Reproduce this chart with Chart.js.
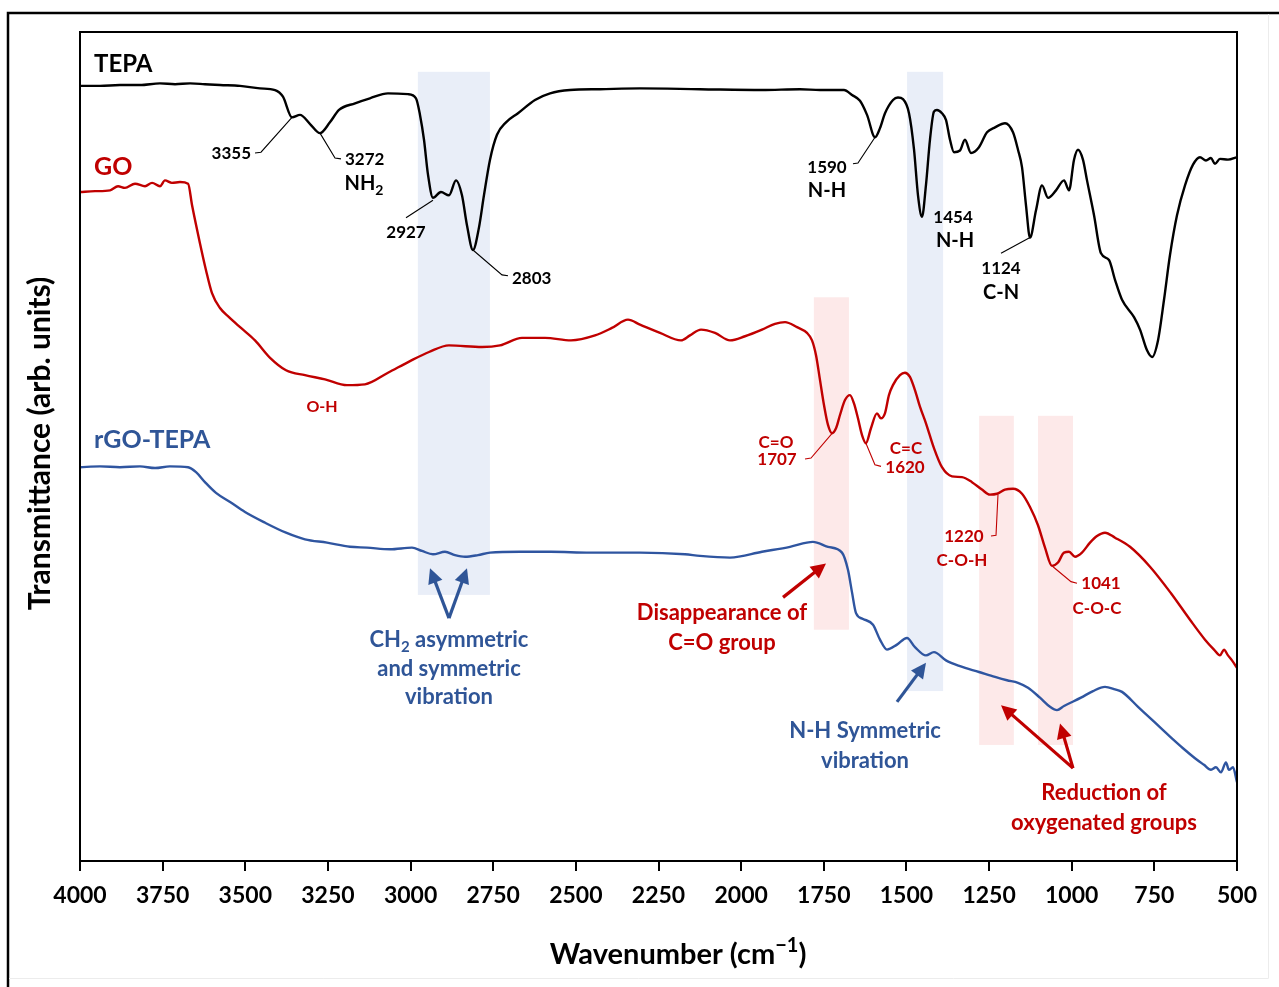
<!DOCTYPE html>
<html><head><meta charset="utf-8">
<script src="https://cdn.jsdelivr.net/npm/chart.js@4.4.1/dist/chart.umd.min.js"></script>
<style>html,body{margin:0;padding:0;background:#fff;}canvas{display:block;}</style>
</head><body>
<canvas id="c" width="1279" height="987"></canvas>
<script>
// ---- data (wavenumber in cm-1, transmittance in arbitrary units) ----
const xTicks = [4000,3750,3500,3250,3000,2750,2500,2250,2000,1750,1500,1250,1000,750,500];

const wnTEPA = [4000,3939.5,3879,3818.5,3758,3712.6,3667,3622,3576.5,3516,3455.5,3410,3386,3358.7,3334.5,3304,3274,3244,3216.5,3168,3123,3068.3,3007.8,2983.6,2971.5,2959.4,2947.3,2932.2,2908,2883.8,2862.6,2844.5,2829.4,2811.3,2793.2,2778,2759.7,2738.6,2711.3,2675,2623.6,2578,2517.7,2427,2306,2124.5,1937,1822,1761.5,1688.9,1664.6,1640.5,1619.2,1595,1580,1564.8,1540.6,1525.5,1510.4,1492.2,1477,1465,1453,1441,1428.8,1416.7,1407.6,1392.5,1380.4,1368.2,1356.1,1338,1323,1304.7,1280.5,1256.2,1232,1201.8,1177.6,1162.5,1150.4,1138.3,1126.2,1108,1089.9,1071.7,1047.5,1023.3,1008.2,993,981,966,953.7,932.5,911.4,887.2,869,847.8,811.5,793.4,772.2,757,739,720.8,702.7,681.5,657.3,633.1,612,593.8,578.7,566.6,551.5,527.3,500];
const tTEPA  = [93.5,93.5,93.6,93.6,93.8,93.7,93.8,93.7,93.6,93.5,93.2,93.0,92.2,89.7,90.0,88.9,87.8,89.1,90.6,91.4,92.0,92.6,92.5,92.0,90.0,87.0,82.8,80.0,80.7,80.3,82.1,80.3,76.7,73.7,76.4,80.3,84.6,87.6,89.1,90.2,91.8,92.6,93.0,93.1,93.2,93.1,93.0,93.1,93.0,93.0,92.4,91.7,90.0,87.3,88.4,90.2,91.8,92.1,91.9,90.2,85.8,80.3,77.7,81.5,87.0,90.4,90.6,90.2,89.4,87.0,85.5,85.7,87.0,85.4,86.1,87.9,88.5,89.0,87.9,85.8,83.7,79.1,75.2,78.5,81.5,80.0,80.9,82.1,80.9,84.6,85.8,84.6,82.1,77.9,73.3,72.5,70.1,67.7,65.6,64.1,61.6,60.8,62.8,67.7,73.1,77.9,81.5,84.0,84.9,84.5,84.8,84.1,84.7,84.6,84.9];

const wnGO = [4000,3954.6,3909,3885,3864,3833.6,3803.3,3782,3758,3743,3722,3697.5,3673,3661,3637,3619,3600.7,3576.5,3549.3,3513,3470.6,3425,3376.8,3319.4,3258.9,3192.3,3138,3068.3,3001.7,2944.2,2883.8,2783.9,2729.5,2662.9,2593.3,2514.7,2442,2391,2342.3,2306,2245.4,2182,2154.7,2121.4,2079,2033.7,1988.3,1937,1897.6,1867.3,1831,1800.8,1785.6,1773.5,1761.4,1749.4,1737.3,1725.2,1713,1701,1685.9,1670.8,1658.7,1646.6,1634.5,1622.5,1607.3,1589.2,1577.1,1565,1552.9,1540.8,1519.6,1504.5,1489.4,1474.2,1459.1,1440.9,1416.7,1392.5,1362.2,1332,1301.7,1271.5,1247.3,1226,1202,1177.6,1150.4,1126.2,1102,1080.8,1059.7,1041.5,1023.3,1008.2,990,969,944.7,923.5,899.3,869,823.7,763.2,699.7,642.2,596.8,569.6,551.5,539.4,527.3,515.2,500];
const tGO  = [80.7,80.8,80.9,81.4,81.2,81.7,81.4,81.8,81.4,82.1,81.8,81.9,81.7,79.1,74.5,71.3,68.5,66.7,65.6,64.3,62.8,60.7,59.2,58.6,58.1,57.4,57.5,58.9,60.3,61.4,62.2,62.0,62.2,63.1,63.1,62.8,63.4,64.3,65.3,64.7,63.7,62.8,63.4,64.1,63.7,62.8,63.3,64.1,64.8,65.0,64.4,63.7,62.8,61.0,58.0,55.0,52.6,51.6,52.2,53.8,55.6,56.2,55.2,53.4,51.4,50.4,52.2,54.0,53.4,54.0,56.2,57.4,58.6,58.9,58.4,56.8,54.8,52.8,49.8,47.5,46.4,46.3,45.7,44.8,44.2,44.3,44.8,44.9,44.3,42.7,40.5,37.8,35.6,36.0,37.2,37.3,36.7,37.2,38.4,39.2,39.6,39.0,37.9,35.5,32.3,29.1,26.7,25.5,24.8,25.5,24.8,24.2,23.3];

const wnRGO = [4000,3939.5,3879,3818.5,3773,3728,3673,3649,3622,3588.6,3546,3500.9,3440,3376.8,3319.4,3252.8,3183.3,3131.8,3062.2,2995.7,2965.4,2932.2,2895.9,2865.6,2835.3,2796,2759.7,2669,2575.2,2457.2,2306,2169.8,2124.5,2033.7,1937,1852.2,1782.7,1737.3,1694.9,1676.7,1664.6,1652.5,1631.4,1601.1,1580,1558.8,1528.6,1498.3,1474.2,1440.9,1416.7,1380.4,1338,1280.5,1232,1195.8,1162.5,1132.2,1096,1065.7,1044.5,1023.3,972,935.6,899.3,869,847.8,799.4,751,702.7,663.4,627.1,599.9,578.7,563.6,548.5,533.4,524.3,512.2,500];
const tRGO  = [47.5,47.6,47.5,47.6,47.4,47.6,47.5,46.9,45.7,44.4,43.3,42.1,40.8,39.6,38.8,38.4,37.9,37.8,37.6,37.8,37.4,37.0,37.3,36.9,36.7,36.9,37.2,37.3,37.3,37.2,37.2,37.0,36.8,36.6,37.3,37.9,38.5,37.9,37.2,35.1,32.4,29.9,29.2,28.5,26.7,25.5,26.1,26.9,25.8,24.8,25.2,24.2,23.5,22.8,22.2,21.8,21.5,20.9,19.7,18.6,18.2,18.7,19.7,20.5,21.0,20.7,20.4,18.6,16.8,15.0,13.6,12.4,11.6,11.0,11.3,10.7,11.9,11.0,11.3,9.5];

// ---- annotation layout (data coordinates) ----
const RED = '#c00000', BLUE = '#2f5597', BLK = '#000000';
const bands = [
  {w1:2978,w2:2760,v1:32.1,v2:95.2,c:'#e9eef8'},
  {w1:1498,w2:1389,v1:20.5,v2:95.2,c:'#e9eef8'},
  {w1:1780,w2:1674,v1:27.9,v2:68.0,c:'#fde9e9'},
  {w1:1280,w2:1175,v1:14.0,v2:53.7,c:'#fde9e9'},
  {w1:1102,w2:996,v1:14.0,v2:53.7,c:'#fde9e9'}
];
const texts = [
  {p:[{t:'TEPA'}],w:3957.6,v:96.1,a:'left',s:24,c:BLK},
  {p:[{t:'GO'}],w:3957.6,v:83.7,a:'left',s:25,c:RED},
  {p:[{t:'rGO-TEPA'}],w:3957.6,v:50.8,a:'left',s:25,c:BLUE},
  {p:[{t:'3355'}],w:3482.7,v:85.4,a:'right',s:17,c:BLK},
  {p:[{t:'3272'}],w:3198.4,v:84.6,a:'left',s:17,c:BLK},
  {p:[{t:'NH'},{t:'2',sub:1}],w:3141,v:81.7,a:'center',s:20,c:BLK},
  {p:[{t:'2927'}],w:3013.8,v:75.8,a:'center',s:17,c:BLK},
  {p:[{t:'2803'}],w:2693.2,v:70.3,a:'left',s:17,c:BLK},
  {p:[{t:'1590'}],w:1740.3,v:83.7,a:'center',s:17,c:BLK},
  {p:[{t:'N-H'}],w:1740.3,v:80.9,a:'center',s:20,c:BLK},
  {p:[{t:'1454'}],w:1359,v:77.6,a:'center',s:17,c:BLK},
  {p:[{t:'N-H'}],w:1353,v:74.9,a:'center',s:20,c:BLK},
  {p:[{t:'1124'}],w:1213.9,v:71.5,a:'center',s:17,c:BLK},
  {p:[{t:'C-N'}],w:1213.9,v:68.6,a:'center',s:20,c:BLK},
  {p:[{t:'O-H'}],w:3267.9,v:54.8,a:'center',s:16,c:RED},
  {p:[{t:'C=O'}],w:1894.6,v:50.5,a:'center',s:17,c:RED},
  {p:[{t:'1707'}],w:1891.5,v:48.4,a:'center',s:17,c:RED},
  {p:[{t:'C=C'}],w:1501.3,v:49.7,a:'center',s:17,c:RED},
  {p:[{t:'1620'}],w:1504.3,v:47.5,a:'center',s:17,c:RED},
  {p:[{t:'1220'}],w:1325.9,v:39.1,a:'center',s:17,c:RED},
  {p:[{t:'C-O-H'}],w:1331.9,v:36.3,a:'center',s:17,c:RED},
  {p:[{t:'1041'}],w:911.4,v:33.5,a:'center',s:17,c:RED},
  {p:[{t:'C-O-C'}],w:923.5,v:30.5,a:'center',s:17,c:RED},
  {p:[{t:'CH'},{t:'2',sub:1},{t:' asymmetric'}],w:2883.8,v:26.7,a:'center',s:22,c:BLUE},
  {p:[{t:'and symmetric'}],w:2883.8,v:23.2,a:'center',s:22,c:BLUE},
  {p:[{t:'vibration'}],w:2883.8,v:19.8,a:'center',s:22,c:BLUE},
  {p:[{t:'Disappearance of'}],w:2057.9,v:29.9,a:'center',s:22,c:RED},
  {p:[{t:'C=O group'}],w:2057.9,v:26.3,a:'center',s:22,c:RED},
  {p:[{t:'N-H Symmetric'}],w:1625.3,v:15.7,a:'center',s:22,c:BLUE},
  {p:[{t:'vibration'}],w:1625.3,v:12.1,a:'center',s:22,c:BLUE},
  {p:[{t:'Reduction of'}],w:902.3,v:8.2,a:'center',s:22,c:RED},
  {p:[{t:'oxygenated groups'}],w:902.3,v:4.6,a:'center',s:22,c:RED}
];
const leaders = [
  {c:BLK,pts:[[3470.6,85.4],[3452.5,85.5],[3358.7,89.7]]},
  {c:BLK,pts:[[3274,87.8],[3228.6,84.8],[3210.5,84.7]]},
  {c:BLK,pts:[[2932.2,79.7],[3013.8,77.6]]},
  {c:BLK,pts:[[2811.3,73.7],[2723.4,70.7],[2705.3,70.6]]},
  {c:BLK,pts:[[1595,87.3],[1646.6,84.2],[1661.7,84.1]]},
  {c:BLK,pts:[[1126.2,75.2],[1213.9,73.3]]},
  {c:RED,pts:[[1722.2,51.7],[1788.6,48.6],[1806.8,48.5]]},
  {c:RED,pts:[[1622.5,50.4],[1595.3,47.8],[1576.9,47.6]]},
  {c:RED,pts:[[1223,44.2],[1229,39.3],[1244.2,39.2]]},
  {c:RED,pts:[[1056.6,35.5],[1002.2,33.7],[984.1,33.5]]}
];
const arrows = [
  {c:BLUE,from:[2883.8,29.3],to:[2941.2,35.3]},
  {c:BLUE,from:[2883.8,29.3],to:[2829.3,35.3]},
  {c:RED,from:[1873.3,31.8],to:[1743.3,35.9]},
  {c:BLUE,from:[1528.5,19.2],to:[1440.8,23.9]},
  {c:RED,from:[996.1,11.2],to:[1213.9,18.8]},
  {c:RED,from:[996.1,11.2],to:[1035.4,16.6]}
];

const FONT = 'Lato, "Open Sans", sans-serif';
function rich(ctx, parts, x, y, align, size, color){
  ctx.fillStyle = color; ctx.textBaseline = 'middle'; ctx.textAlign = 'left';
  const fonts = parts.map(p => 'bold ' + ((p.sub||p.sup) ? Math.round(size*0.68) : size) + 'px ' + FONT);
  const widths = parts.map((p,i) => { ctx.font = fonts[i]; return ctx.measureText(p.t).width; });
  const total = widths.reduce((a,b)=>a+b,0);
  let sx = align==='center' ? x-total/2 : (align==='right' ? x-total : x);
  parts.forEach((p,i) => {
    ctx.font = fonts[i];
    const dy = p.sub ? size*0.32 : (p.sup ? -size*0.33 : 0);
    ctx.fillText(p.t, sx, y+dy); sx += widths[i];
  });
}
function arrow(ctx,x1,y1,x2,y2,color){
  const ang = Math.atan2(y2-y1,x2-x1), L = 15, W = 7.5;
  const bx = x2-L*Math.cos(ang), by = y2-L*Math.sin(ang);
  ctx.strokeStyle = color; ctx.lineWidth = 3.2; ctx.lineCap='butt';
  ctx.beginPath(); ctx.moveTo(x1,y1); ctx.lineTo(bx+Math.cos(ang),by+Math.sin(ang)); ctx.stroke();
  ctx.fillStyle = color; ctx.beginPath(); ctx.moveTo(x2,y2);
  ctx.lineTo(bx+W*Math.sin(ang), by-W*Math.cos(ang));
  ctx.lineTo(bx-W*Math.sin(ang), by+W*Math.cos(ang)); ctx.closePath(); ctx.fill();
}

const annotPlugin = {
  id:'annot',
  beforeDatasetsDraw(chart){
    const {ctx, scales:{x,y}} = chart;
    ctx.save();
    bands.forEach(b => {
      const x1 = x.getPixelForValue(b.w1), x2 = x.getPixelForValue(b.w2);
      const y1 = y.getPixelForValue(b.v1), y2 = y.getPixelForValue(b.v2);
      ctx.fillStyle = b.c;
      ctx.fillRect(Math.min(x1,x2), Math.min(y1,y2), Math.abs(x2-x1), Math.abs(y2-y1));
    });
    ctx.restore();
  },
  afterDatasetsDraw(chart){
    const {ctx, scales:{x,y}, chartArea:ca} = chart;
    ctx.save();
    leaders.forEach(l => {
      ctx.strokeStyle = l.c; ctx.lineWidth = 1.1; ctx.beginPath();
      l.pts.forEach((pt,i) => { const px = x.getPixelForValue(pt[0]), py = y.getPixelForValue(pt[1]); i ? ctx.lineTo(px,py) : ctx.moveTo(px,py); });
      ctx.stroke();
    });
    arrows.forEach(a => arrow(ctx, x.getPixelForValue(a.from[0]), y.getPixelForValue(a.from[1]), x.getPixelForValue(a.to[0]), y.getPixelForValue(a.to[1]), a.c));
    texts.forEach(t => rich(ctx, t.p, x.getPixelForValue(t.w), y.getPixelForValue(t.v), t.a, t.s, t.c));
    // plot frame
    ctx.strokeStyle = '#000'; ctx.lineWidth = 2;
    ctx.strokeRect(ca.left, ca.top, ca.right-ca.left, ca.bottom-ca.top);
    ctx.restore();
  },
  afterDraw(chart){
    const {ctx, chartArea:ca} = chart;
    ctx.save();
    // axis titles
    rich(ctx, [{t:'Wavenumber (cm'},{t:'\u22121',sup:1},{t:')'}], ca.left+598, 955, 'center', 29, '#000');
    ctx.translate(40, (ca.top+ca.bottom)/2 - 3);
    ctx.rotate(-Math.PI/2);
    rich(ctx, [{t:'Transmittance (arb. units)'}], 0, 0, 'center', 30, '#000');
    ctx.restore();
    // outer figure frame
    ctx.save();
    ctx.strokeStyle = '#000'; ctx.lineWidth = 2.5;
    ctx.beginPath(); ctx.moveTo(1279,13); ctx.lineTo(8,13); ctx.lineTo(8,987); ctx.stroke();
    ctx.strokeStyle = '#ececec'; ctx.lineWidth = 1;
    ctx.beginPath(); ctx.moveTo(1268.5,14); ctx.lineTo(1268.5,978.5); ctx.lineTo(9,978.5); ctx.stroke();
    ctx.restore();
  }
};

const mk = (w,t) => w.map((v,i)=>({x:v,y:t[i]}));
new Chart(document.getElementById('c'), {
  type:'line',
  data:{ datasets:[
    {label:'TEPA', data:mk(wnTEPA,tTEPA), borderColor:'#000000', borderWidth:2.4},
    {label:'GO', data:mk(wnGO,tGO), borderColor:'#c00000', borderWidth:2.4},
    {label:'rGO-TEPA', data:mk(wnRGO,tRGO), borderColor:'#2f55a0', borderWidth:2.4}
  ]},
  options:{
    responsive:false, animation:false, devicePixelRatio:1,
    parsing:true,
    elements:{ point:{radius:0}, line:{cubicInterpolationMode:'monotone', fill:false} },
    layout:{ padding:{left:80, right:42, top:32, bottom:0} },
    plugins:{ legend:{display:false}, tooltip:{enabled:false} },
    scales:{
      x:{ type:'linear', reverse:true, min:500, max:4000,
          afterBuildTicks: s => { s.ticks = xTicks.map(v=>({value:v})); },
          afterFit: s => { s.height = 126; },
          grid:{ display:true, drawOnChartArea:false, drawTicks:true, tickLength:10, color:'#000', lineWidth:2 },
          border:{ display:true, color:'#000', width:2 },
          ticks:{ color:'#000', padding:11, maxRotation:0, autoSkip:false,
                  callback: v => String(v),
                  font:{family:FONT, size:23, weight:'bold'} }
      },
      y:{ display:false, min:0, max:100 }
    }
  },
  plugins:[annotPlugin]
});
</script>
</body></html>
